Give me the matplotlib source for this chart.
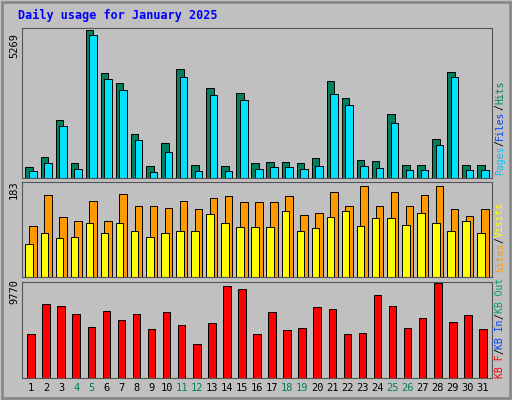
import matplotlib
matplotlib.use("Agg")
import matplotlib.pyplot as plt
import numpy as np

days = list(range(1, 32))
weekend = [4, 5, 11, 12, 18, 19, 25, 26]
hits = [390, 745, 2050, 530, 5230, 3710, 3360, 1555, 425, 1240, 3850, 460, 3180, 425, 3005,
        530, 565, 565, 530, 710, 3430, 2830, 635, 600, 2260, 460, 460, 1380, 3750, 460, 460]
files = [250, 530, 1840, 320, 5060, 3500, 3110, 1345, 210, 920, 3570, 250, 2935, 250, 2760,
         320, 390, 390, 320, 425, 2970, 2580, 425, 355, 1945, 285, 285, 1165, 3570, 285, 285]
sites = [102, 165, 120, 112, 152, 112, 167, 143, 143, 139, 152, 136, 159, 163, 151,
         151, 151, 163, 124, 128, 171, 143, 183, 143, 171, 143, 165, 183, 136, 122, 136]
visits = [67, 89, 79, 81, 108, 89, 108, 92, 81, 89, 92, 92, 126, 108, 100,
          100, 100, 132, 92, 98, 120, 132, 102, 118, 118, 104, 128, 108, 92, 112, 89]
kb = [4540, 7590, 7380, 6540, 5280, 6850, 6010, 6540, 5070, 6750, 5490, 3490, 5700, 9460, 9140,
      4540, 6750, 4960, 5170, 7270, 7060, 4540, 4650, 8510, 7380, 5170, 6120, 9770, 5800, 6440, 5070]

BG = "#C0C0C0"
fig = plt.figure(figsize=(5.12, 4.0), dpi=100, facecolor=BG)
fig.patches.append(plt.Rectangle((0.004, 0.004), 0.992, 0.992, transform=fig.transFigure,
                                 fill=False, edgecolor="#888888", lw=2))
x = np.array(days)
L, W = 22/512, 470/512
ax1 = fig.add_axes([L, 0.555, W, 0.375])
ax2 = fig.add_axes([L, 0.3075, W, 0.2375])
ax3 = fig.add_axes([L, 0.055, W, 0.24])
for ax in (ax1, ax2, ax3):
    ax.set_facecolor(BG)
    ax.set_xlim(0.4, 31.6)
    ax.set_xticks([]); ax.set_yticks([])
    for s in ax.spines.values():
        s.set_color("#555555")

bw = 0.5
ax1.bar(x - 0.12, hits, bw, color="#008060", edgecolor="black", lw=0.7)
ax1.bar(x + 0.12, files, bw, color="#00E0FF", edgecolor="black", lw=0.7)
ax1.set_ylim(0, 5269 * 1.005)
ax2.bar(x - 0.12, visits, bw, color="#FFFF00", edgecolor="black", lw=0.7, zorder=2)
ax2.bar(x + 0.12, sites, bw, color="#FF9900", edgecolor="black", lw=0.7, zorder=1)
ax2.set_ylim(0, 183 * 1.04)
ax3.bar(x, kb, bw, color="#FF0000", edgecolor="black", lw=0.7)
ax3.set_ylim(0, 9770 * 1.01)

mono = "DejaVu Sans Mono"
fig.text(18/512, 1 - 15/400, "Daily usage for January 2025", color="#0000FF",
         fontsize=8.5, fontweight="bold", family=mono, va="center")
for y, t in [(45, "5269"), (190, "183"), (292, "9770")]:
    fig.text(14/512, 1 - y/400, t, rotation=90, fontsize=7.5, family=mono,
             ha="center", va="center")
for d in days:
    xf = L + (d - 0.4) / 31.2 * W
    fig.text(xf, 1 - 388/400, str(d), fontsize=7.5, family=mono, ha="center", va="center",
             color="#00805A" if d in weekend else "black")

fig.canvas.draw()
renderer = fig.canvas.get_renderer()

def vlabel(parts, ybot):
    y = ybot
    for t, c in parts:
        tx = fig.text(500/512, y, t, rotation=90, fontsize=7, family=mono,
                      color=c, ha="center", va="bottom")
        ext = tx.get_window_extent(renderer)
        y += ext.height / 400

vlabel([("Pages", "#00C0FF"), ("/", "black"), ("Files", "#0040FF"),
        ("/", "black"), ("Hits", "#008060")], 1 - 175/400)
vlabel([("KB F", "#FF0000"), ("/", "black"), ("KB In", "#0040FF"), ("/", "black"),
        ("KB Out", "#00A060"), (" ", "black"), ("Sites", "#FF9900"), ("/", "black"),
        ("Visits", "#FFFF00")], 1 - 378/400)

fig.savefig("out.png", dpi=100, facecolor=BG)
